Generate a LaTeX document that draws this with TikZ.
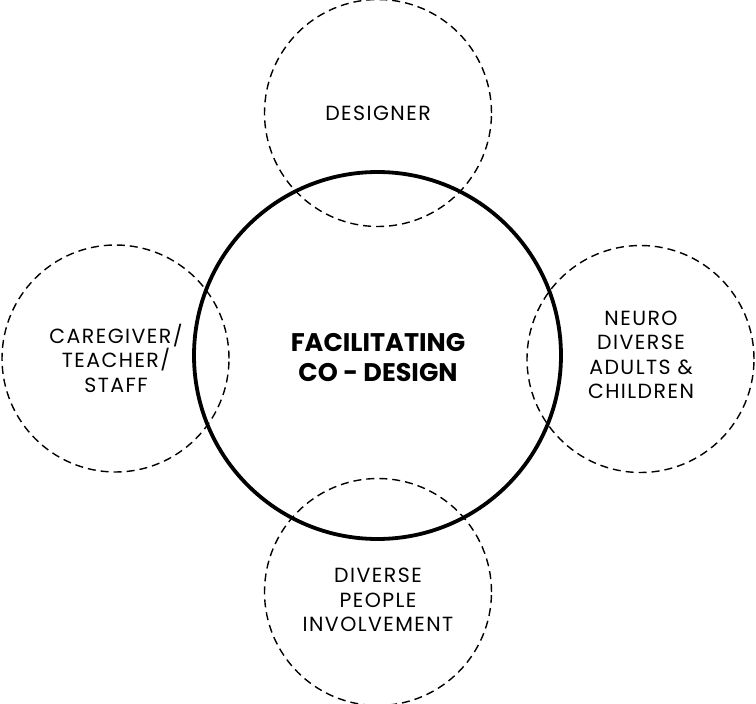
\documentclass[tikz,border=0pt]{standalone}
\usepackage{fontspec}
\setmainfont{Poppins}
\newfontfamily\rolefont[LetterSpace=7]{Poppins}
\usetikzlibrary{positioning}

\tikzset{
  hub/.style={draw,circle,line width=3.8pt,minimum size=367pt,inner sep=0pt},
  role/.style={draw,circle,dashed,dash pattern=on 8pt off 5pt,line width=1.4pt,minimum size=227pt,inner sep=0pt},
  hubtext/.style={align=center,inner sep=0pt,font=\fontsize{25.5}{30}\selectfont\bfseries},
  roletext/.style={align=center,inner sep=0pt,font=\rolefont\fontsize{20.5}{24.5}\selectfont}
}

\begin{document}
\begin{tikzpicture}[x=1pt,y=-1pt]
        \useasboundingbox (0,0) rectangle (756,704);
        % dashed circles around the hub
        \node[role] (designer) at (378,113) {};
        \node[role] (caregiver) at (115.5,358.5) {};
        \node[role] (neuro) at (640.5,359) {};
        \node[role] (people) at (378,592) {};
        \node[hub] (codesign) at (377.5,355.5) {};
        % labels
        \node[roletext] (designer-t) at (378,113) {DESIGNER};
        \node[roletext] (caregiver-t) at (116,358) {CAREGIVER/\\TEACHER/\\STAFF};
        \node[roletext] (neuro-t) at (641,355) {NEURO\\DIVERSE\\ADULTS \&\\CHILDREN};
        \node[roletext] (people-t) at (378,600) {DIVERSE\\PEOPLE\\INVOLVEMENT};
        \node[hubtext] (codesign-t) at (378,358) {FACILITATING\\CO - DESIGN};
    \end{tikzpicture}
\end{document}
